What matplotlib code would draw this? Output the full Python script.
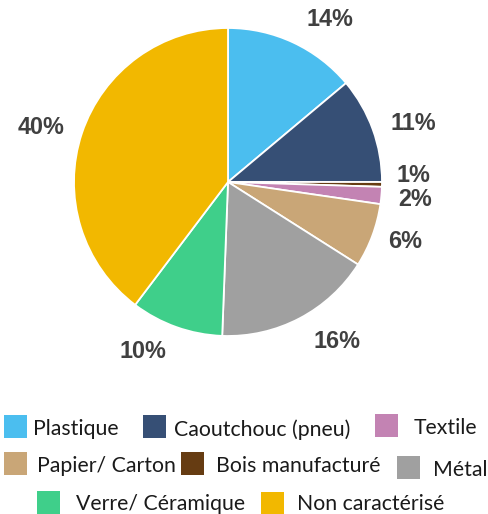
import matplotlib
matplotlib.use("Agg")
import matplotlib.pyplot as plt
from matplotlib.patches import Rectangle

categories = ["Plastique", "Caoutchouc (pneu)", "Bois manufacturé", "Textile",
              "Papier/ Carton", "Métal", "Verre/ Céramique", "Non caractérisé"]
values = [13.9, 11.1, 0.5, 1.8, 6.7, 16.6, 9.7, 39.7]
pct_labels = ["14%", "11%", "1%", "2%", "6%", "16%", "10%", "40%"]
colors = ["#4BBEEF", "#364F75", "#663C12", "#C383B3",
          "#C9A677", "#A0A0A0", "#3FCF8A", "#F2B800"]

W, H = 488, 514
fig = plt.figure(figsize=(W / 100, H / 100), dpi=100)

cx, cy, r = 228, 182, 154
ax = fig.add_axes([(cx - r) / W, (H - cy - r) / H, 2 * r / W, 2 * r / H])
ax.pie(values, colors=colors, startangle=90, counterclock=False, radius=1,
       wedgeprops=dict(edgecolor="white", linewidth=1.3))
ax.set_xlim(-1, 1)
ax.set_ylim(-1, 1)
ax.set_aspect("equal")
ax.axis("off")

# label positions in pixel coords (layout)
label_pos = [(330, 20), (413, 124), (413, 176), (415, 199), (405, 242),
             (337, 342), (143, 352), (41, 127)]
for lab, (px, py) in zip(pct_labels, label_pos):
    fig.text(px / W, 1 - py / H, lab, ha="center", va="center",
             fontsize=16.8, fontweight="bold", color="#404040",
             family="Liberation Sans")

# legend layout: (square x, square y top, text x, text baseline y)
legend_order = ["Plastique", "Caoutchouc (pneu)", "Textile",
                "Papier/ Carton", "Bois manufacturé", "Métal",
                "Verre/ Céramique", "Non caractérisé"]
legend_layout = [(4, 415, 33, 435), (143, 415, 174, 435.5), (375, 414, 414, 434),
                 (4, 452, 37, 472.5), (181, 452, 216, 471.5), (397, 456, 433, 476),
                 (37, 491, 76, 510), (261, 492, 297, 510)]
sq = 23
for name, (sx, sy, tx, ty) in zip(legend_order, legend_layout):
    col = colors[categories.index(name)]
    fig.patches.append(Rectangle((sx / W, 1 - (sy + sq) / H), sq / W, sq / H,
                                 transform=fig.transFigure, facecolor=col,
                                 edgecolor="none"))
    fig.text(tx / W, 1 - ty / H, name, ha="left", va="baseline",
             fontsize=15.3, color="#1a1a1a", family="Lato")

fig.savefig("out.png", dpi=100)
